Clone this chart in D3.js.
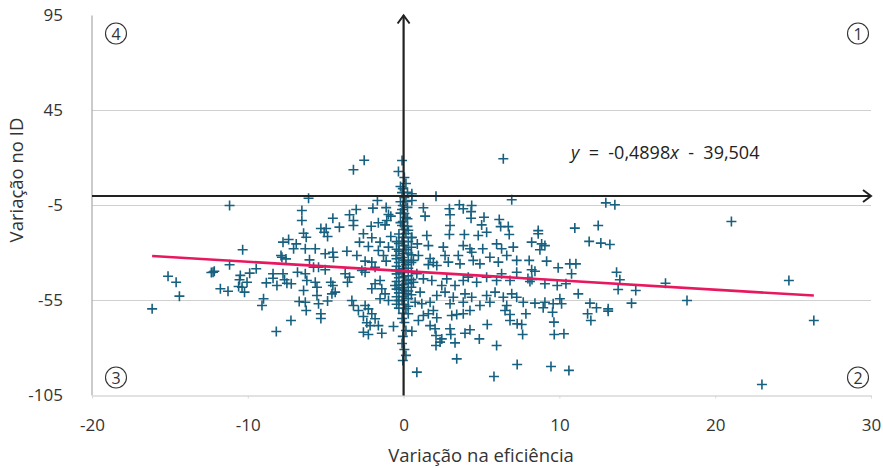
<!DOCTYPE html>
<html>
<head>
<meta charset="utf-8">
<script src="https://cdn.jsdelivr.net/npm/d3@7"></script>
<style>
  html, body { margin: 0; padding: 0; background: #fff; }
  svg { display: block; font-family: "Open Sans", "Noto Sans", sans-serif; }
</style>
</head>
<body>
<svg id="chart" width="883" height="468"></svg>
<script>
// Change in efficiency (x) against change in the ID (y), one "+" per unit
const efficiencyChange = [
  -11.17,-2.53,-3.22,-0.33,-6.10,-1.68,-3.04,-1.97,-1.12,-3.47,-4.54,-3.22,-0.97,-0.82,-1.08,-4.12,-2.08,-1.62,-1.19,-6.53,-6.53,-5.31,-4.97,-3.22,
  6.40,0.53,0.53,2.08,6.94,1.27,1.38,2.94,2.98,2.98,3.58,3.83,4.37,4.33,4.33,5.16,5.01,6.14,6.23,6.72,
  12.98,13.56,10.99,12.49,21.04,8.64,
  -10.33,-11.17,-12.23,-12.34,-12.15,-15.12,-14.60,-14.39,-16.14,-11.76,-11.27,-10.48,-10.53,-10.59,-10.05,-9.88,-9.46,-10.21,-10.37,-8.81,-8.99,-9.09,-8.38,-8.38,-8.13,-7.74,-7.64,-7.49,-7.21,-6.81,-7.81,-7.55,-7.87,-7.74,-7.38,-7.06,-6.89,-6.70,
  -6.42,-6.25,-5.10,-4.88,-6.31,-5.67,-6.04,-5.03,-4.54,-4.50,-3.64,-3.00,-2.83,-2.58,-2.26,-2.04,-1.51,-1.62,-0.82,-0.97,-1.29,-1.12,-2.04,-1.83,-2.47,-6.31,-5.78,-5.46,-5.03,-6.21,-5.67,-5.56,-4.67,-4.54,-3.75,-3.47,-3.60,-6.42,-5.56,-4.60,-4.39,-6.31,-5.46,-4.88,-3.32,-3.22,-2.47,-2.26,-2.04,-1.83,-1.51,-1.40,-1.19,-1.51,-0.97,-2.68,-2.47,-0.48,-0.48,-0.55,-0.33,
  0.53,0.88,1.49,1.59,2.94,3.90,4.79,5.33,6.78,2.55,3.83,4.26,5.08,5.97,6.29,7.04,1.70,1.91,2.13,1.59,0.95,0.63,2.66,2.87,3.51,3.62,4.37,4.47,4.90,5.54,6.08,6.62,7.26,0.85,1.27,0.63,1.81,2.45,2.77,3.30,3.83,4.15,4.69,5.33,5.97,6.29,6.83,7.26,1.06,2.13,2.66,3.19,3.94,4.37,5.33,5.87,6.40,6.94,0.74,1.17,1.70,2.98,3.83,4.90,5.54,6.62,7.26,
  8.64,8.22,8.86,9.07,8.75,11.91,12.66,13.24,8.06,9.18,9.92,10.67,11.06,10.78,8.22,8.43,7.98,8.11,8.24,9.07,9.86,10.42,11.21,13.67,13.88,13.77,14.90,16.81,24.73,18.19,7.68,8.43,9.07,9.60,10.03,10.14,11.96,12.38,13.13,14.63,8.96,
  -7.23,-8.17,
  -6.25,-5.31,-5.31,-2.90,-2.58,-2.04,-1.83,-2.36,-2.15,-1.62,-1.40,-2.58,-2.26,-0.65,
  0.53,0.85,0.95,1.27,1.59,2.13,1.91,1.70,2.02,2.08,2.08,2.45,2.34,2.98,3.03,3.30,3.09,3.41,3.83,4.26,3.94,4.26,4.86,5.37,3.41,5.97,5.80,6.51,6.83,6.83,7.29,7.29,
  7.85,7.64,7.58,9.56,9.65,9.67,10.29,11.81,12.02,13.13,9.46,10.61,26.33,23.00,
  -0.10,0.05,0.15,-0.05,-0.10,0.05,0.15,-0.05,-0.10,0.05,0.15,-0.05,-0.10,0.05,0.15,-0.05,-0.10,0.05,0.15,-0.05,-0.10,0.05,0.15,-0.05,-0.10,0.05,0.15,-0.05,-0.10,0.05,0.15,-0.05,-0.10,0.05,0.15,-0.05,-0.10,0.05,0.15,-0.05,-0.10,0.05,0.15,-0.05,
  -0.45,-0.45,-0.45,-0.45,-0.45,-0.45,-0.45,-0.45,-0.45,0.50,0.50,0.50,0.50,0.50,0.50,0.50,0.50,
  -0.30,-0.30,-0.30,-0.30,-0.30,-0.30,-0.30,-0.30,-0.30,-0.30,
  0.30,0.30,0.30,0.30,0.30,0.30,0.30,0.30,0.30,0.30,0.30,
  -0.20,-0.20,-0.20,-0.20,0.25,0.25,0.25,0.25
];
const idChange = [
  -5.0,18.8,13.8,12.9,-1.2,-2.4,-7.1,-6.4,-6.1,-9.9,-11.7,-12.9,-9.7,-10.6,-12.9,-16.4,-15.9,-14.1,-15.2,-7.6,-12.9,-17.1,-17.1,-15.5,
  19.6,1.2,-2.4,-0.1,-2.0,-6.2,-10.6,-6.7,-9.9,-15.5,-4.6,-6.7,-5.0,-8.2,-11.7,-11.2,-15.2,-12.4,-16.1,-16.1,
  -3.6,-4.6,-16.9,-15.5,-13.4,-18.2,
  -28.3,-36.2,-40.1,-40.3,-39.6,-42.2,-45.4,-52.7,-59.4,-48.8,-50.1,-41.8,-44.1,-47.6,-45.4,-40.6,-38.3,-50.6,-48.0,-45.7,-54.1,-57.6,-40.9,-43.3,-47.1,-40.9,-44.1,-45.9,-46.2,-40.1,-32.2,-33.1,-31.3,-24.3,-22.9,-27.8,-25.2,-55.5,
  -19.6,-21.7,-19.1,-21.3,-27.8,-27.8,-33.6,-30.4,-29.6,-32.2,-29.1,-31.3,-24.3,-19.9,-26.6,-22.0,-24.3,-28.7,-21.3,-26.9,-31.3,-34.3,-34.8,-37.5,-34.3,-40.9,-37.5,-37.5,-38.8,-44.5,-45.4,-48.0,-45.4,-47.1,-40.9,-42.7,-45.4,-49.7,-52.4,-51.5,-50.6,-55.9,-56.7,-55.3,-55.0,-57.6,-57.6,-59.4,-48.8,-46.2,-44.5,-48.8,-51.5,-54.1,-55.0,-39.2,-40.1,-31.3,-39.2,-47.1,-55.0,
  -21.7,-25.2,-20.8,-26.1,-20.3,-20.3,-20.8,-19.1,-20.3,-26.9,-26.1,-27.8,-27.8,-25.2,-27.8,-26.9,-32.9,-35.0,-36.6,-36.1,-31.3,-33.9,-31.3,-34.8,-31.3,-35.7,-29.6,-33.9,-35.7,-32.2,-34.8,-31.3,-33.9,-40.9,-43.6,-45.4,-44.5,-47.1,-43.6,-47.1,-44.5,-42.7,-45.4,-42.7,-44.5,-40.9,-44.5,-40.1,-50.6,-52.4,-50.6,-53.3,-51.5,-53.3,-52.4,-50.6,-53.3,-51.5,-55.9,-56.7,-55.9,-56.7,-55.9,-57.6,-55.9,-57.6,-53.3,
  -19.9,-24.3,-25.2,-26.1,-28.3,-23.9,-24.8,-25.5,-33.9,-34.3,-37.8,-35.7,-35.7,-40.9,-38.8,-39.6,-43.4,-45.0,-43.9,-46.2,-47.1,-46.2,-51.5,-40.1,-44.1,-49.2,-49.7,-45.9,-44.5,-55.0,-55.9,-56.4,-55.9,-56.7,-54.1,-56.7,-56.4,-58.8,-59.4,-56.4,-58.8,
  -65.5,-71.3,
  -60.3,-62.0,-64.5,-60.3,-63.4,-62.0,-64.6,-66.7,-68.2,-68.2,-72.2,-71.7,-72.9,-68.7,
  -71.2,-92.7,-65.5,-62.9,-62.0,-64.1,-60.3,-68.2,-69.9,-73.4,-78.7,-75.2,-76.9,-69.9,-72.9,-77.3,-62.9,-62.4,-62.0,-60.3,-72.2,-70.4,-75.2,-67.6,-85.7,-78.7,-95.0,-60.3,-65.5,-62.4,-67.3,-88.7,
  -62.0,-72.9,-67.6,-61.2,-66.4,-72.9,-72.5,-62.0,-65.5,-60.6,-89.7,-91.8,-65.5,-99.2,
  18.7,9.7,6.6,3.9,1.8,-0.8,-2.9,-5.0,-7.1,-9.2,-11.3,-13.4,-15.5,-17.6,-19.7,-21.8,-23.9,-26.1,-28.2,-30.3,-32.4,-33.9,-36.1,-38.2,-40.3,-42.4,-44.5,-46.6,-48.2,-49.7,-51.3,-52.9,-55.0,-57.1,-59.2,-61.8,-64.5,-66.6,-70.8,-73.9,-77.6,-80.8,-83.9,-86.6,
  -24.0,-28.0,-33.0,-37.0,-41.0,-45.0,-49.0,-53.0,-57.0,-22.0,-27.0,-31.0,-35.0,-40.0,-44.0,-48.0,-52.0,
  -20.0,-25.0,-29.0,-35.0,-39.0,-43.0,-47.0,-51.0,-55.0,-59.0,
  -18.0,-24.0,-30.0,-34.0,-38.0,-42.0,-46.0,-50.0,-54.0,-58.0,-62.0,
  5.0,-3.0,-9.0,-14.0,2.0,-6.0,-12.0,-16.0
];

const xTicks = [-20, -10, 0, 10, 20, 30];
const yTicks = [95, 45, -5, -55, -105];
const gridValues = [45, -5, -55];

// Linear fit shown in the annotation
const slope = -0.4898;
const intercept = -39.504;

const quadrants = [
  { label: "1", x: 30, y: 95, dx: -13, dy: 18 },
  { label: "2", x: 30, y: -105, dx: -13, dy: -18 },
  { label: "3", x: -20, y: -105, dx: 24, dy: -18 },
  { label: "4", x: -20, y: 95, dx: 24, dy: 18 }
];

const n = Math.min(efficiencyChange.length, idChange.length);
const points = d3.range(n).map(i => ({ x: efficiencyChange[i], y: idChange[i] }));

const svg = d3.select("#chart");
const plotLeft = 92, plotRight = 871, plotTop = 15.5, plotBottom = 395.5;

const x = d3.scaleLinear().domain([-20, 30]).range([plotLeft, plotRight]);
const y = d3.scaleLinear().domain([-105, 95]).range([plotBottom, plotTop]);

const textColor = "#333";
const fontFamily = "'Open Sans', 'Noto Sans', sans-serif";
const plainNumber = d => String(d);

// horizontal grid
svg.append("g").selectAll("line").data(gridValues).join("line")
  .attr("x1", plotLeft).attr("x2", plotRight)
  .attr("y1", d => y(d)).attr("y2", d => y(d))
  .attr("stroke", "#d0d0d0").attr("stroke-width", 1.2);

// left frame
svg.append("line")
  .attr("x1", plotLeft).attr("x2", plotLeft).attr("y1", plotTop).attr("y2", plotBottom)
  .attr("stroke", "#a8a8a8").attr("stroke-width", 1.2);

// bottom axis
const xAxis = svg.append("g")
  .attr("transform", `translate(0,${plotBottom})`)
  .call(d3.axisBottom(x).tickValues(xTicks).tickSize(3).tickSizeOuter(0).tickFormat(plainNumber));
xAxis.select(".domain").attr("stroke", "#d8d8d8").attr("stroke-width", 1.4);
xAxis.selectAll(".tick line").attr("stroke", "#d8d8d8");
xAxis.selectAll(".tick text")
  .attr("y", 30).attr("dy", "0.35em")
  .attr("fill", textColor).style("font-size", "17px")
  .style("font-family", fontFamily);

// left axis labels
const yAxis = svg.append("g")
  .attr("transform", `translate(${plotLeft},0)`)
  .call(d3.axisLeft(y).tickValues(yTicks).tickSize(0).tickFormat(plainNumber));
yAxis.select(".domain").remove();
yAxis.selectAll(".tick text")
  .attr("x", -29)
  .attr("fill", textColor).style("font-size", "17px")
  .style("font-family", fontFamily);

// axis titles
svg.append("text")
  .attr("x", 481).attr("y", 457)
  .attr("text-anchor", "middle").attr("dominant-baseline", "middle")
  .attr("fill", textColor).style("font-size", "18.5px")
  .text("Variação na eficiência");

svg.append("text")
  .attr("transform", `translate(18,180) rotate(-90)`)
  .attr("text-anchor", "middle").attr("dominant-baseline", "middle")
  .attr("fill", textColor).style("font-size", "18.5px")
  .text("Variação no ID");

// points
const pointColor = "#17607f";
const arm = 5;
svg.append("g").selectAll("path").data(points).join("path")
  .attr("d", d => {
    const cx = x(d.x), cy = y(d.y);
    return `M${cx - arm},${cy}H${cx + arm}M${cx},${cy - arm}V${cy + arm}`;
  })
  .attr("stroke", pointColor).attr("stroke-width", 1.6).attr("fill", "none");

// quadrant axes with arrowheads
const axisColor = "#222";
const x0 = x(0), y0 = y(0);
svg.append("line")
  .attr("x1", x0).attr("x2", x0).attr("y1", plotBottom).attr("y2", plotTop)
  .attr("stroke", axisColor).attr("stroke-width", 2.2);
svg.append("path")
  .attr("d", `M${x0 - 6},${plotTop + 8}L${x0},${plotTop}L${x0 + 6},${plotTop + 8}`)
  .attr("fill", "none").attr("stroke", axisColor).attr("stroke-width", 2);
svg.append("line")
  .attr("x1", plotLeft).attr("x2", plotRight).attr("y1", y0).attr("y2", y0)
  .attr("stroke", axisColor).attr("stroke-width", 2.2);
svg.append("path")
  .attr("d", `M${plotRight - 8},${y0 - 6}L${plotRight},${y0}L${plotRight - 8},${y0 + 6}`)
  .attr("fill", "none").attr("stroke", axisColor).attr("stroke-width", 2);

// regression line over the range of the data
const [xmin, xmax] = d3.extent(efficiencyChange);
svg.append("line")
  .attr("x1", x(xmin)).attr("y1", y(slope * xmin + intercept))
  .attr("x2", x(xmax)).attr("y2", y(slope * xmax + intercept))
  .attr("stroke", "#e8185e").attr("stroke-width", 2.6);

// equation label
const eq = svg.append("text")
  .attr("x", 571).attr("y", 159)
  .attr("fill", "#222").style("font-size", "18px")
  .attr("xml:space", "preserve")
  .style("white-space", "pre");
eq.append("tspan").style("font-style", "italic").text("y");
eq.append("tspan").text("  =  -0,4898");
eq.append("tspan").style("font-style", "italic").text("x");
eq.append("tspan").text("  -  39,504");

// quadrant markers
const q = svg.append("g").selectAll("g").data(quadrants).join("g")
  .attr("transform", d => `translate(${x(d.x) + d.dx},${y(d.y) + d.dy})`);
q.append("circle").attr("r", 10.5)
  .attr("fill", "none").attr("stroke", "#333").attr("stroke-width", 1.1);
q.append("text")
  .attr("text-anchor", "middle").attr("dominant-baseline", "central")
  .attr("fill", "#333").style("font-size", "16px")
  .text(d => d.label);
</script>
</body>
</html>
